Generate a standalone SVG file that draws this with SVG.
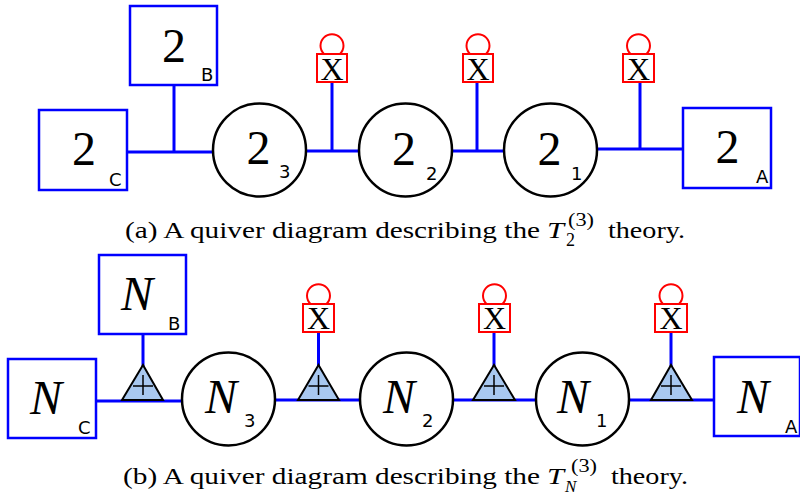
<svg xmlns="http://www.w3.org/2000/svg" width="800" height="497" viewBox="0 0 800 497">
<style>
.conn{stroke:#0000ff;stroke-width:3;fill:none}
.flav{fill:#fff;stroke:#0000ff;stroke-width:2.5}
.gauge{fill:#fff;stroke:#000;stroke-width:2.5}
.adj{fill:#fff;stroke:#ff0000;stroke-width:2}
.loop{fill:none;stroke:#ff0000;stroke-width:2}
.tri{fill:#a8c8f0;stroke:#000;stroke-width:2;stroke-linejoin:miter}
.plus{stroke:#000;stroke-width:1.5;fill:none}
.big{font-family:"Liberation Serif",serif;font-size:48px;text-anchor:middle;fill:#000}
.bigi{font-family:"Liberation Serif",serif;font-size:48px;font-style:italic;fill:#000}
.sub{font-family:"DejaVu Sans",sans-serif;font-size:18px;fill:#000}
.x{font-family:"Liberation Serif",serif;font-size:32px;text-anchor:middle;fill:#000}
.cap{font-family:"Liberation Serif",serif;font-size:24px;fill:#000}
.capi{font-family:"Liberation Serif",serif;font-size:24px;font-style:italic;fill:#000}
.capsm{font-family:"Liberation Serif",serif;font-size:18px;fill:#000}
.capsmi{font-family:"Liberation Serif",serif;font-size:17px;font-style:italic;fill:#000}
</style>
<defs>
<path id="loopTop" d="M -8 0 A 11.5 11.5 0 1 1 8 0"/>
</defs>

<!-- ===== (a) connectors ===== -->
<g id="connectors-a">
<line class="conn" x1="127" y1="152" x2="213" y2="152"/>
<line class="conn" x1="174" y1="85" x2="174" y2="152"/>
<line class="conn" x1="306" y1="151" x2="359" y2="151"/>
<line class="conn" x1="332" y1="82" x2="332" y2="151"/>
<line class="conn" x1="452" y1="151" x2="504" y2="151"/>
<line class="conn" x1="477" y1="82" x2="477" y2="151"/>
<line class="conn" x1="597" y1="149" x2="683" y2="149"/>
<line class="conn" x1="640" y1="82" x2="640" y2="149"/>
</g>

<g id="a-flavor-B">
<rect class="flav" x="130" y="6" width="87" height="79"/>
<text class="big" x="174" y="62">2</text>
<text class="sub" x="201" y="81">B</text>
</g>
<g id="a-flavor-C">
<rect class="flav" x="39" y="110" width="88" height="80"/>
<text class="big" x="84" y="165">2</text>
<text class="sub" x="109" y="186">C</text>
</g>
<g id="a-gauge-3">
<circle class="gauge" cx="259.5" cy="150" r="46.5"/>
<text class="big" x="258.5" y="164">2</text>
<text class="sub" x="279" y="178">3</text>
</g>
<g id="a-gauge-2">
<circle class="gauge" cx="405.5" cy="150" r="46.5"/>
<text class="big" x="404" y="165">2</text>
<text class="sub" x="426" y="180">2</text>
</g>
<g id="a-gauge-1">
<circle class="gauge" cx="550.5" cy="150" r="46.5"/>
<text class="big" x="549.5" y="165">2</text>
<text class="sub" x="571" y="180">1</text>
</g>
<g id="a-flavor-A">
<rect class="flav" x="683" y="108" width="88" height="80"/>
<text class="big" x="727.5" y="163">2</text>
<text class="sub" x="756" y="183">A</text>
</g>
<g id="a-adj-1">
<use href="#loopTop" class="loop" x="332" y="54"/>
<rect class="adj" x="317" y="54" width="30" height="28"/>
<text class="x" x="332" y="80">X</text>
</g>
<g id="a-adj-2">
<use href="#loopTop" class="loop" x="478" y="54"/>
<rect class="adj" x="463" y="54" width="30" height="28"/>
<text class="x" x="478" y="80">X</text>
</g>
<g id="a-adj-3">
<use href="#loopTop" class="loop" x="638.5" y="54"/>
<rect class="adj" x="623" y="54" width="31" height="28"/>
<text class="x" x="638.5" y="80">X</text>
</g>

<g id="caption-a">
<text class="cap" x="125" y="238" textLength="415" lengthAdjust="spacingAndGlyphs">(a) A quiver diagram describing the</text>
<text class="capi" x="547" y="238" textLength="17" lengthAdjust="spacingAndGlyphs">T</text>
<text class="capsm" x="566" y="246">2</text>
<text class="capsm" x="568" y="226" textLength="26" lengthAdjust="spacingAndGlyphs">(3)</text>
<text class="cap" x="608" y="238" textLength="77" lengthAdjust="spacingAndGlyphs">theory.</text>
</g>

<!-- ===== (b) connectors ===== -->
<g id="connectors-b">
<line class="conn" x1="96" y1="401" x2="182" y2="401"/>
<line class="conn" x1="143" y1="334" x2="143" y2="366"/>
<line class="conn" x1="275" y1="400" x2="360" y2="400"/>
<line class="conn" x1="318.5" y1="332" x2="318.5" y2="366"/>
<line class="conn" x1="453" y1="400" x2="536" y2="400"/>
<line class="conn" x1="494" y1="332" x2="494" y2="366"/>
<line class="conn" x1="629" y1="400" x2="714" y2="400"/>
<line class="conn" x1="671" y1="332" x2="671" y2="366"/>
</g>

<g id="b-flavor-B">
<rect class="flav" x="99" y="255" width="87" height="79"/>
<text class="bigi" x="121" y="310">N</text>
<text class="sub" x="168" y="330">B</text>
</g>
<g id="b-flavor-C">
<rect class="flav" x="8" y="359" width="88" height="79"/>
<text class="bigi" x="30" y="414">N</text>
<text class="sub" x="78" y="434">C</text>
</g>
<g id="b-bif-1">
<polygon class="tri" points="143,365 122,400 163,400"/>
<path class="plus" d="M143 375 V395 M133 386 H153"/>
</g>
<g id="b-gauge-3">
<circle class="gauge" cx="228.5" cy="399" r="46.5"/>
<text class="bigi" x="205" y="413">N</text>
<text class="sub" x="244" y="427">3</text>
</g>
<g id="b-adj-1">
<use href="#loopTop" class="loop" x="318.5" y="304"/>
<rect class="adj" x="303" y="304" width="31" height="28"/>
<text class="x" x="318.5" y="329">X</text>
</g>
<g id="b-bif-2">
<polygon class="tri" points="318.5,365 298,400 339,400"/>
<path class="plus" d="M318.5 375 V395 M308.5 386 H328.5"/>
</g>
<g id="b-gauge-2">
<circle class="gauge" cx="406.5" cy="399" r="46.5"/>
<text class="bigi" x="383" y="413">N</text>
<text class="sub" x="422" y="427">2</text>
</g>
<g id="b-adj-2">
<use href="#loopTop" class="loop" x="494.5" y="304"/>
<rect class="adj" x="479" y="304" width="31" height="28"/>
<text class="x" x="494.5" y="329">X</text>
</g>
<g id="b-bif-3">
<polygon class="tri" points="494,365 473,400 515,400"/>
<path class="plus" d="M494 375 V395 M484 386 H504"/>
</g>
<g id="b-gauge-1">
<circle class="gauge" cx="582.5" cy="399" r="46.5"/>
<text class="bigi" x="557" y="413">N</text>
<text class="sub" x="596" y="427">1</text>
</g>
<g id="b-adj-3">
<use href="#loopTop" class="loop" x="671" y="304"/>
<rect class="adj" x="655" y="304" width="32" height="28"/>
<text class="x" x="671" y="329">X</text>
</g>
<g id="b-bif-4">
<polygon class="tri" points="671,365 651,400 692,400"/>
<path class="plus" d="M671 375 V395 M661 386 H681"/>
</g>
<g id="b-flavor-A">
<rect class="flav" x="714" y="357" width="86" height="79"/>
<text class="bigi" x="737" y="413">N</text>
<text class="sub" x="785" y="433">A</text>
</g>

<g id="caption-b">
<text class="cap" x="123" y="484" textLength="417" lengthAdjust="spacingAndGlyphs">(b) A quiver diagram describing the</text>
<text class="capi" x="547" y="484" textLength="17" lengthAdjust="spacingAndGlyphs">T</text>
<text class="capsmi" x="565" y="492">N</text>
<text class="capsm" x="571" y="472" textLength="26" lengthAdjust="spacingAndGlyphs">(3)</text>
<text class="cap" x="611" y="484" textLength="77" lengthAdjust="spacingAndGlyphs">theory.</text>
</g>
</svg>
